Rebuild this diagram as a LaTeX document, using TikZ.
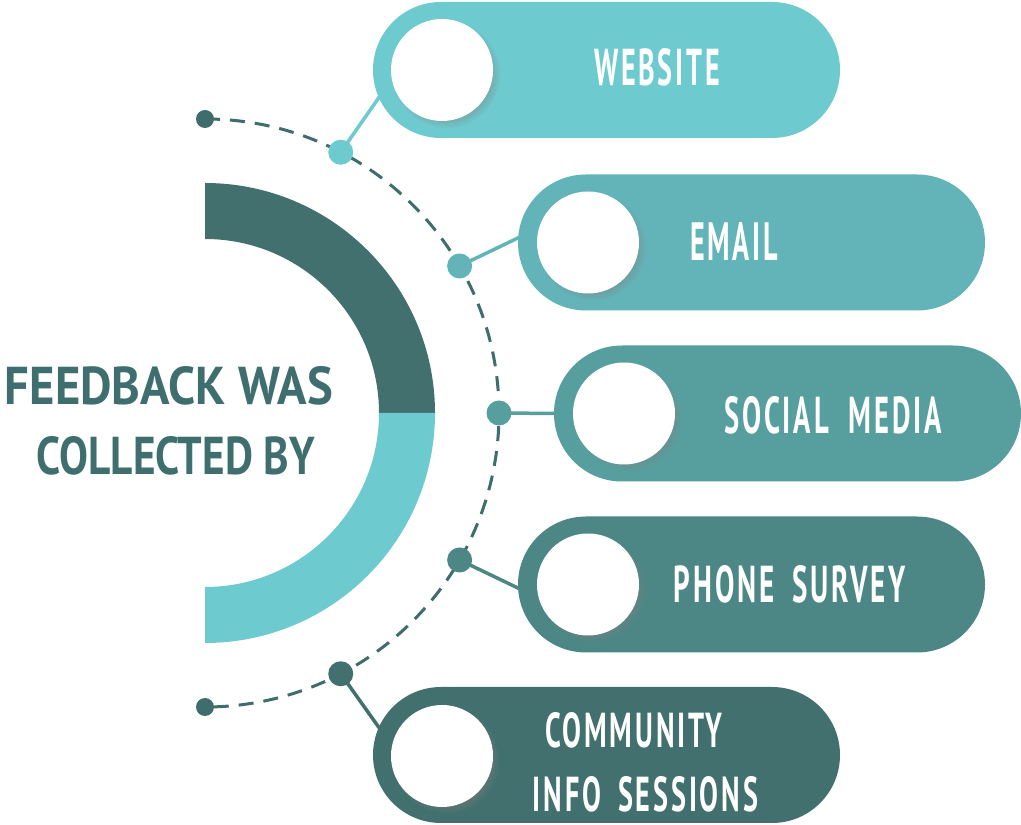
\documentclass[tikz,border=0pt]{standalone}
\usepackage{fontspec}
\usetikzlibrary{shapes.misc,shadows,fadings,calc}
\newfontfamily\lblfont{PT Sans}[LetterSpace=10]
\newfontfamily\headfont{PT Sans}
\definecolor{cA}{HTML}{6DCACE}
\definecolor{cB}{HTML}{62B4B8}
\definecolor{cC}{HTML}{579F9F}
\definecolor{cD}{HTML}{4C8786}
\definecolor{cE}{HTML}{41706E}
\definecolor{cdash}{HTML}{3E6D6C}
\definecolor{chead}{HTML}{3E6F6E}
\tikzset{
  pill/.style={rounded rectangle, minimum width=467pt, minimum height=136pt, inner sep=0pt, draw=none},
  hole/.style={circle, fill=white, minimum size=102pt, inner sep=0pt,
    circular drop shadow={shadow xshift=4pt, shadow yshift=-4pt, shadow scale=1.06, opacity=0.35}},
  dotnode/.style={circle, minimum size=25pt, inner sep=0pt},
  enddot/.style={circle, fill=cdash, minimum size=18pt, inner sep=0pt},
  link/.style={line width=3.5pt},
  lbl/.style={text=white, inner sep=0pt, anchor=center},
  headtxt/.style={text=chead, inner sep=0pt, anchor=center},
}
\newcommand{\lbltext}[3]{\resizebox{#1pt}{#2pt}{\lblfont\bfseries #3}}
\newcommand{\headtext}[3]{\resizebox{#1pt}{#2pt}{\headfont\bfseries #3}}
\begin{document}
\begin{tikzpicture}[x=1pt,y=1pt]
\useasboundingbox (0,0) rectangle (1021,825);
\fill[white] (0,0) rectangle (1021,825);
% centre of the arcs
\coordinate (O) at (205,412);
% dashed arc
\draw[cdash, line width=3pt, dash pattern=on 15pt off 10pt] (205,706) arc[start angle=90, end angle=-90, radius=294];
\node[enddot] (top) at (205,706) {};
\node[enddot] (bot) at (205,118) {};
% thick half ring
\fill[cE] (205,642) arc[start angle=90, end angle=0, radius=230] -- (379,412) arc[start angle=0, end angle=90, radius=174] -- cycle;
\fill[cA] (435,412) arc[start angle=0, end angle=-90, radius=230] -- (205,238) arc[start angle=-90, end angle=0, radius=174] -- cycle;
% heading
\node[headtxt] (h1) at (169,439) {\headtext{328}{38}{FEEDBACK WAS}};
\node[headtxt] (h2) at (176,369) {\headtext{278}{38}{COLLECTED BY}};
% pills
\node[pill, fill=cA] (p1) at (606.5,755) {};
\node[pill, fill=cB] (p2) at (751.5,582.5) {};
\node[pill, fill=cC] (p3) at (787.5,411.5) {};
\node[pill, fill=cD] (p4) at (751.5,240.5) {};
\node[pill, fill=cE] (p5) at (606.5,70) {};
% holes
\node[hole] (c1) at (442,755) {};
\node[hole] (c2) at (588,582.5) {};
\node[hole] (c3) at (624,411.5) {};
\node[hole] (c4) at (588,240.5) {};
\node[hole] (c5) at (442,69) {};
% labels
\node[lbl] (l1) at (657,757.5) {\lbltext{126}{37}{WEBSITE}};
\node[lbl] (l2) at (734,583.5) {\lbltext{88}{38}{EMAIL}};
\node[lbl] (l3) at (833,410) {\lbltext{218}{37}{SOCIAL\hspace{0.7em}MEDIA}};
\node[lbl] (l4) at (790,240.5) {\lbltext{232}{37}{PHONE\hspace{0.6em}SURVEY}};
\node[lbl] (l5a) at (633.5,94.5) {\lbltext{177}{35}{COMMUNITY}};
\node[lbl] (l5b) at (645.5,30.5) {\lbltext{225}{35}{INFO\hspace{0.6em}SESSIONS}};
% dots on the dashed arc
\node[dotnode, fill=cA] (d1) at ($(O)+(62.5:294)$) {};
\node[dotnode, fill=cB] (d2) at ($(O)+(30:294)$) {};
\node[dotnode, fill=cC] (d3) at ($(O)+(0:294)$) {};
\node[dotnode, fill=cD] (d4) at ($(O)+(-30:294)$) {};
\node[dotnode, fill=cE] (d5) at ($(O)+(-62.5:294)$) {};
% connector ends on the pills
\coordinate (e1) at (380,729);
\coordinate (e2) at (520,588);
\coordinate (e3) at (557,411.5);
\coordinate (e4) at (520,236);
\coordinate (e5) at (380,96);
\draw[link, cA] (d1.center) -- (e1);
\draw[link, cB] (d2.center) -- (e2);
\draw[link, cC] (d3.center) -- (e3);
\draw[link, cD] (d4.center) -- (e4);
\draw[link, cE] (d5.center) -- (e5);
\end{tikzpicture}
\end{document}
